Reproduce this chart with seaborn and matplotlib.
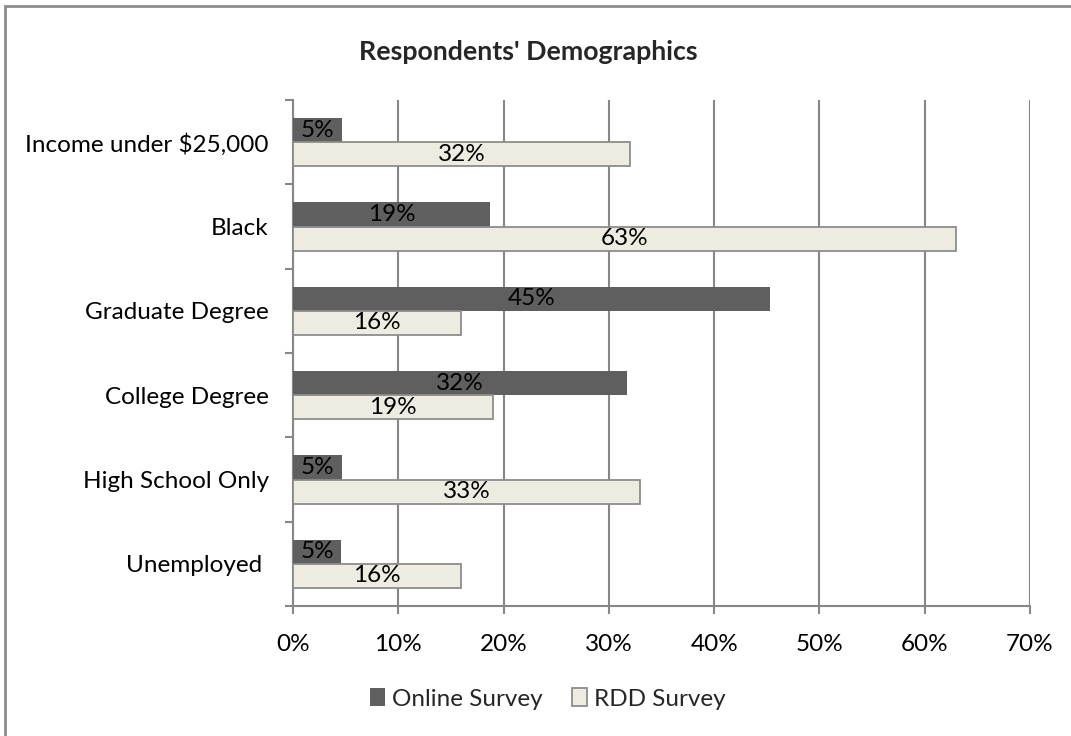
import matplotlib
matplotlib.use("Agg")
import matplotlib.pyplot as plt
import matplotlib.patches as mpatches
from matplotlib.ticker import FuncFormatter, FixedLocator
import pandas as pd
import seaborn as sns

# Survey demographics (share of respondents)
categories = ["Income under $25,000", "Black", "Graduate Degree",
              "College Degree", "High School Only", "Unemployed "]
online_survey = [0.047, 0.187, 0.453, 0.317, 0.047, 0.046]
rdd_survey = [0.32, 0.63, 0.16, 0.19, 0.33, 0.16]
series_names = ["Online Survey", "RDD Survey"]
x_ticks = [0.0, 0.1, 0.2, 0.3, 0.4, 0.5, 0.6, 0.7]

df = pd.DataFrame({
    "category": categories * 2,
    "series": [series_names[0]] * len(categories) + [series_names[1]] * len(categories),
    "share": online_survey + rdd_survey,
})

sns.set_theme(style="white")
plt.rcParams["font.family"] = ["Lato", "DejaVu Sans"]

dark = "#5f5f5f"
light = "#eeece1"
edge_grey = "#8c8c8c"
axis_grey = "#878787"
fs = 17.5

fig = plt.figure(figsize=(10.71, 7.36), dpi=100)
ax = fig.add_axes([293 / 1071, 1 - 606 / 736, (1030 - 293) / 1071, (606 - 100) / 736])

sns.barplot(data=df, x="share", y="category", hue="series", orient="h",
            palette=[dark, light], width=0.57, saturation=1, ax=ax,
            legend=False, zorder=3)

# outline only the light series
for bar in ax.containers[1]:
    bar.set_edgecolor(edge_grey)
    bar.set_linewidth(1.3)
for bar in ax.containers[0]:
    bar.set_edgecolor("none")

for cont in ax.containers:
    ax.bar_label(cont, labels=[f"{round(b.get_width() * 100)}%" for b in cont],
                 label_type="center", fontsize=fs, color="black", zorder=5)

ax.set_xlim(0, 0.7)
ax.set_ylim(len(categories) - 0.5, -0.5)
ax.xaxis.set_major_locator(FixedLocator(x_ticks))
ax.xaxis.set_major_formatter(FuncFormatter(lambda v, _: f"{round(v * 100)}%"))
ax.grid(axis="x", color=axis_grey, linewidth=1.5, zorder=0)
ax.grid(axis="y", visible=False)
ax.set_axisbelow(True)

# category boundary ticks on the value axis side
ax.yaxis.set_minor_locator(FixedLocator([i - 0.5 for i in range(len(categories) + 1)]))
ax.tick_params(axis="y", which="major", length=0, labelsize=fs, pad=17.5, labelcolor="black")
ax.tick_params(axis="y", which="minor", length=6, width=1.5, color=axis_grey, left=True)
ax.tick_params(axis="x", which="major", length=6, width=1.5, color=axis_grey,
               bottom=True, labelsize=fs, pad=14, labelcolor="black")

for side in ["top", "right"]:
    ax.spines[side].set_visible(False)
for side in ["left", "bottom"]:
    ax.spines[side].set_color(axis_grey)
    ax.spines[side].set_linewidth(1.5)

ax.set_xlabel("")
ax.set_ylabel("")

fig.suptitle("Respondents' Demographics", x=528 / 1071, y=1 - 52 / 736, va="center",
             fontsize=19.3, fontweight="bold")

handles = [mpatches.Patch(facecolor=dark, edgecolor="none", label=series_names[0]),
           mpatches.Patch(facecolor=light, edgecolor=edge_grey, linewidth=1.3,
                          label=series_names[1])]
fig.legend(handles=handles, loc="center", bbox_to_anchor=(548 / 1071, 1 - 699 / 736),
           ncol=2, frameon=False, fontsize=fs, handlelength=0.62, handleheight=0.75,
           handletextpad=0.3, columnspacing=1.2)

# chart area border
fig.add_artist(mpatches.Rectangle((5 / 1071, -0.05), 1.2, 1 - 6 / 736 + 0.05,
                                  transform=fig.transFigure, fill=False,
                                  edgecolor=edge_grey, linewidth=2))

fig.savefig("out.png", dpi=100)
